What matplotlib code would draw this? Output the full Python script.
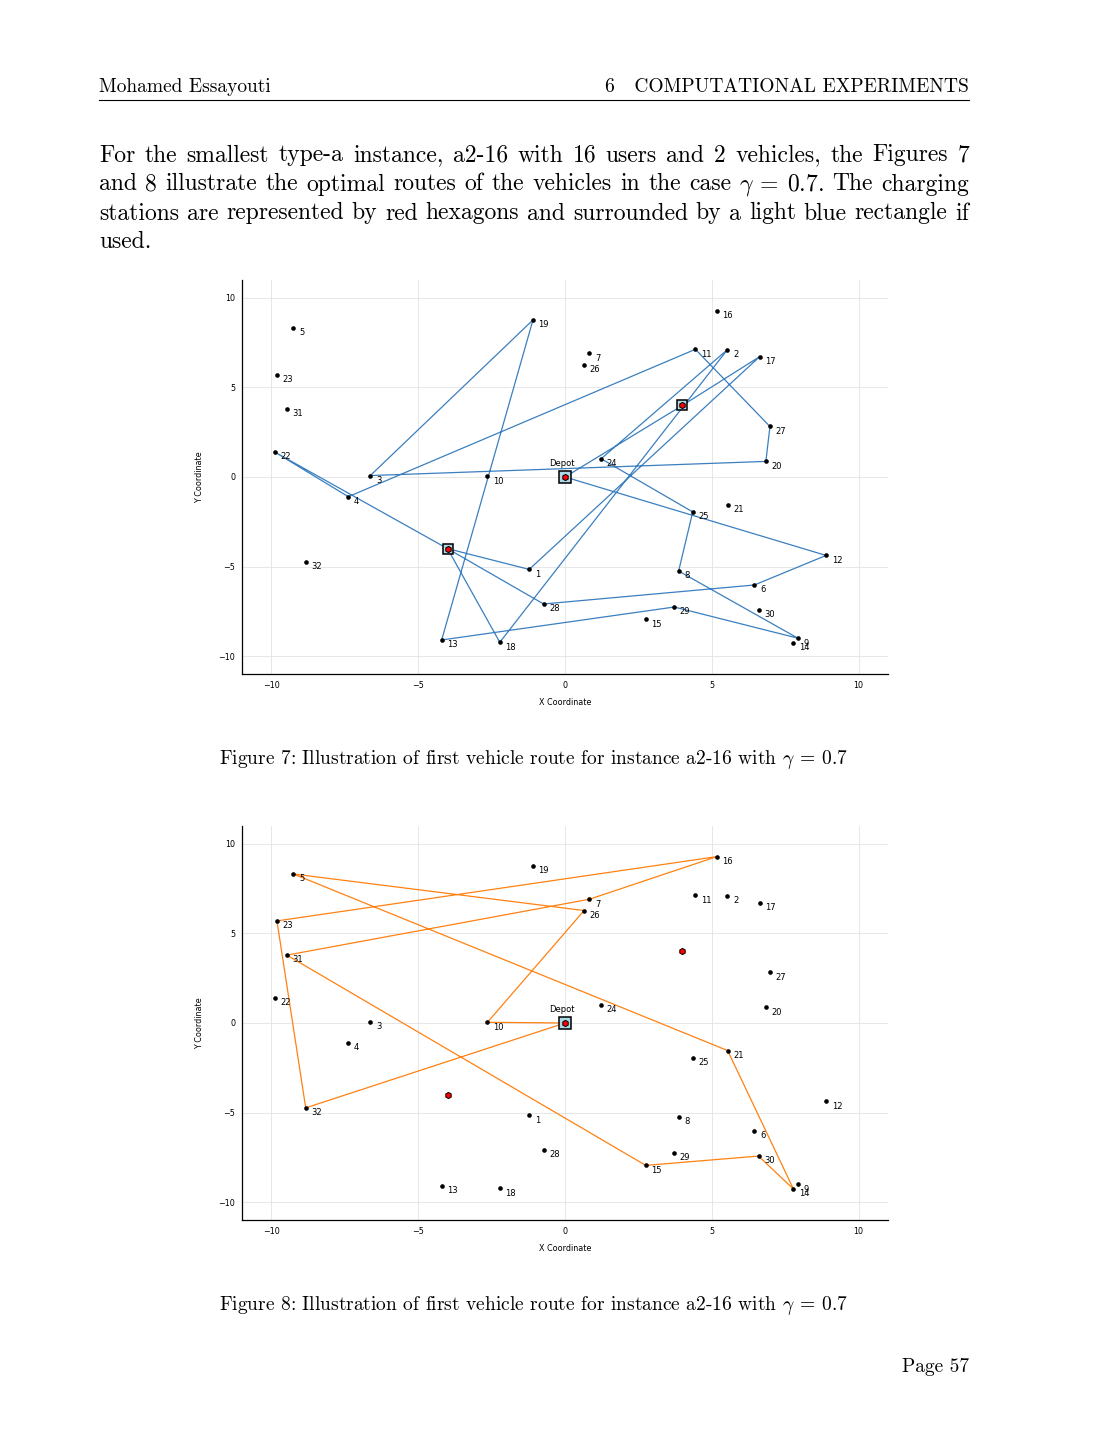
import matplotlib
matplotlib.use("Agg")
import matplotlib.pyplot as plt

plt.rcParams['mathtext.fontset'] = 'cm'
plt.rcParams['axes.unicode_minus'] = True

# instance a2-16: node coordinates
node_ids = list(range(1, 33))
node_x = [-1.22, 5.53, -6.63, -7.38, -9.25, 6.45, 0.83, 3.87, 7.93, -2.64,
          4.44, 8.89, -4.20, 7.78, 2.75, 5.17, 6.63, -2.22, -1.09, 6.84,
          5.54, -9.88, -9.81, 1.23, 4.35, 0.65, 6.98, -0.73, 3.72, 6.59,
          -9.47, -8.83]
node_y = [-5.16, 7.11, 0.08, -1.10, 8.32, -6.03, 6.91, -5.25, -9.00, 0.04,
          7.13, -4.38, -9.10, -9.27, -7.95, 9.29, 6.72, -9.23, 8.77, 0.87,
          -1.54, 1.39, 5.70, 1.02, -1.95, 6.28, 2.82, -7.09, -7.26, -7.43,
          3.79, -4.74]

depot_xy = (0.0, 0.0)
station_names = ['S1', 'S2']
station_x = [4.0, -4.0]
station_y = [4.0, -4.0]

# routes ('D' = depot, 'S1'/'S2' = charging stations)
route1 = ['D', 'S1', 17, 1, 'S2', 22, 4, 11, 27, 20, 3, 19, 13, 29, 9, 8,
          25, 24, 2, 18, 'S2', 28, 6, 12, 'D']
route2 = ['D', 10, 26, 5, 21, 14, 30, 15, 31, 7, 16, 23, 32, 'D']
used1 = ['S1', 'S2']
used2 = []

ticks = [-10, -5, 0, 5, 10]

W, H = 1105, 1430
SERIF = ['cmr10', 'DejaVu Serif']
GAMMA = r'$\gamma\:=\:0.7$'

coords = {i: (x, y) for i, x, y in zip(node_ids, node_x, node_y)}
coords['D'] = depot_xy
for s, x, y in zip(station_names, station_x, station_y):
    coords[s] = (x, y)


def fx(px):
    return px / W


def fy(py):
    return 1 - py / H


def draw_route(ax, route, color, used):
    xs = [coords[k][0] for k in route]
    ys = [coords[k][1] for k in route]
    ax.plot(xs, ys, color=color, lw=0.9, zorder=2)
    ax.scatter(node_x, node_y, s=11, color='black', zorder=3, linewidths=0)
    for i, x, y in zip(node_ids, node_x, node_y):
        ax.annotate(str(i), (x, y), xytext=(4, -3.5), textcoords='offset points',
                    fontsize=6, ha='left', va='center')
    # depot
    ax.plot(*depot_xy, marker='s', ms=8.5, mfc='#add8e6', mec='black', mew=1.1, zorder=4)
    ax.plot(*depot_xy, marker='h', ms=4.5, mfc='red', mec='black', mew=0.7, zorder=5)
    ax.annotate('Depot', depot_xy, xytext=(-2, 10), textcoords='offset points',
                fontsize=6, ha='center', va='center')
    for s, x, y in zip(station_names, station_x, station_y):
        if s in used:
            ax.plot(x, y, marker='s', ms=7.5, mfc='#add8e6', mec='black', mew=1.1, zorder=4)
        ax.plot(x, y, marker='h', ms=4.5, mfc='red', mec='black', mew=0.7, zorder=5)

    ax.set_xlim(-11, 11)
    ax.set_ylim(-11, 11)
    ax.set_xticks(ticks)
    ax.set_yticks(ticks)
    ax.grid(True, color='#e3e3e3', lw=0.6)
    ax.set_axisbelow(True)
    for sp in ['top', 'right']:
        ax.spines[sp].set_visible(False)
    ax.spines['left'].set_linewidth(0.9)
    ax.spines['bottom'].set_linewidth(0.9)
    ax.tick_params(length=0, labelsize=5.8, pad=5)
    ax.set_xlabel('X Coordinate', fontsize=5.8, labelpad=6)
    ax.set_ylabel('Y Coordinate', fontsize=5.8, labelpad=10)


def justified(fig, words, x0, x1, y, size, last=False):
    r = fig.canvas.get_renderer()
    objs = [fig.text(0, fy(y), w, fontsize=size, family=SERIF, va='baseline')
            for w in words]
    widths = [o.get_window_extent(r).width for o in objs]
    if last or len(words) == 1:
        gap = size * 0.33
    else:
        gap = (x1 - x0 - sum(widths)) / (len(words) - 1)
    x = x0
    for o, w in zip(objs, widths):
        o.set_x(fx(x))
        x += w + gap


fig = plt.figure(figsize=(W / 100, H / 100), dpi=100)

ax1 = fig.add_axes([fx(242), fy(674), fx(888) - fx(242), fy(280) - fy(674)])
draw_route(ax1, route1, '#3b7fbf', used1)
ax2 = fig.add_axes([fx(242), fy(1220), fx(888) - fx(242), fy(826) - fy(1220)])
draw_route(ax2, route2, '#ff8112', used2)

# page header
fig.text(fx(99), fy(92), 'Mohamed Essayouti', fontsize=14, family=SERIF, va='baseline')
fig.text(fx(969), fy(92), '6   COMPUTATIONAL EXPERIMENTS', fontsize=14, family=SERIF,
         va='baseline', ha='right')
fig.add_artist(plt.Line2D([fx(99), fx(969)], [fy(99.5), fy(99.5)], color='black', lw=0.8))

para = [
    "For the smallest type-a instance, a2-16 with 16 users and 2 vehicles, the Figures 7",
    "and 8 illustrate the optimal routes of the vehicles in the case @ The charging",
    "stations are represented by red hexagons and surrounded by a light blue rectangle if",
    "used.",
]
for k, line in enumerate(para):
    words = [w if w != '@' else GAMMA + '.' for w in line.split(' ')]
    justified(fig, words, 99, 969, 161.5 + 29 * k, 17.0, last=(k == len(para) - 1))

fig.text(fx(534), fy(764), 'Figure 7: Illustration of first vehicle route for instance a2-16 with ' + GAMMA,
         fontsize=14.0, family=SERIF, ha='center', va='baseline')
fig.text(fx(534), fy(1310), 'Figure 8: Illustration of first vehicle route for instance a2-16 with ' + GAMMA,
         fontsize=14.0, family=SERIF, ha='center', va='baseline')
fig.text(fx(969), fy(1372), 'Page 57', fontsize=14, family=SERIF, ha='right', va='baseline')

fig.savefig('out.png', dpi=100)
